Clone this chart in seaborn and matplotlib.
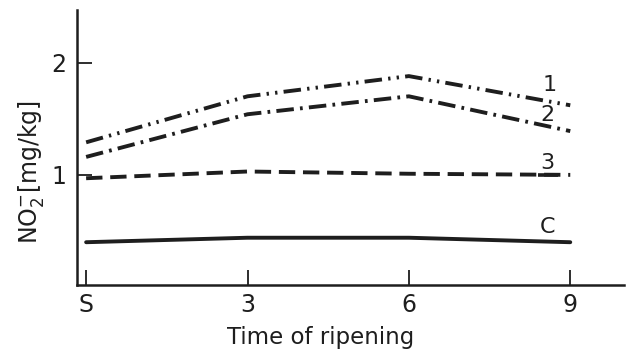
import numpy as np
import pandas as pd
import matplotlib
matplotlib.use("Agg")
import matplotlib.pyplot as plt
import seaborn as sns

# ---- data ----
times = [0, 3, 6, 9]
tick_labels = ["S", "3", "6", "9"]
series_1 = [1.29, 1.70, 1.88, 1.62]
series_2 = [1.16, 1.54, 1.70, 1.39]
series_3 = [0.97, 1.03, 1.01, 1.00]
series_C = [0.40, 0.44, 0.44, 0.40]
series_names = ["1", "2", "3", "C"]

df = pd.concat([
    pd.DataFrame({"time": times, "value": v, "series": n})
    for n, v in zip(series_names, [series_1, series_2, series_3, series_C])
], ignore_index=True)

sns.set_style("white")
plt.rcParams["font.family"] = ["DejaVu Sans"]
plt.rcParams["mathtext.fontset"] = "dejavusans"

ink = "#1e1e1e"
fig = plt.figure(figsize=(6.31, 3.53), dpi=100)
ax = fig.add_axes([0.122, 0.193, 0.867, 0.779])

dashes = {
    "1": (4.5, 1.6, 0.6, 1.6, 0.6, 1.6),
    "2": (4.5, 1.6, 0.7, 1.6),
    "3": (4.2, 2.0),
    "C": "",
}
sns.lineplot(data=df, x="time", y="value", hue="series", style="series",
             palette={n: ink for n in series_names}, dashes=dashes,
             linewidth=2.8, legend=False, ax=ax)

ax.set_xlim(-0.17, 10.0)
ax.set_ylim(0.02, 2.47)
ax.set_xticks(times)
ax.set_xticklabels(tick_labels)
ax.set_yticks([1, 2])
ax.set_yticklabels(["1", "2"])
ax.tick_params(bottom=True, left=True, direction="in", length=11, width=1.3,
               colors=ink, labelsize=17)
ax.tick_params(axis="x", pad=6)
ax.tick_params(axis="y", pad=8)
for s in ["top", "right"]:
    ax.spines[s].set_visible(False)
for s in ["left", "bottom"]:
    ax.spines[s].set_color(ink)
    ax.spines[s].set_linewidth(1.8)

ax.set_xlabel("Time of ripening", fontsize=16.5, color=ink)
ax.xaxis.set_label_coords(0.446, -0.148)
ax.set_ylabel(r"NO$_2^{-}$[mg/kg]", fontsize=17, color=ink)
ax.yaxis.set_label_coords(-0.056, 0.41)

# curve labels
ax.text(8.62, 1.80, "1", fontsize=16, color=ink, ha="center", va="center")
ax.text(8.58, 1.53, "2", fontsize=16, color=ink, ha="center", va="center")
ax.text(8.58, 1.11, "3", fontsize=16, color=ink, ha="center", va="center")
ax.plot([8.40, 8.78], [1.0, 1.0], color=ink, lw=2.6, solid_capstyle="butt")
ax.text(8.58, 0.54, "C", fontsize=16, color=ink, ha="center", va="center")

fig.savefig("out.png", dpi=100)
